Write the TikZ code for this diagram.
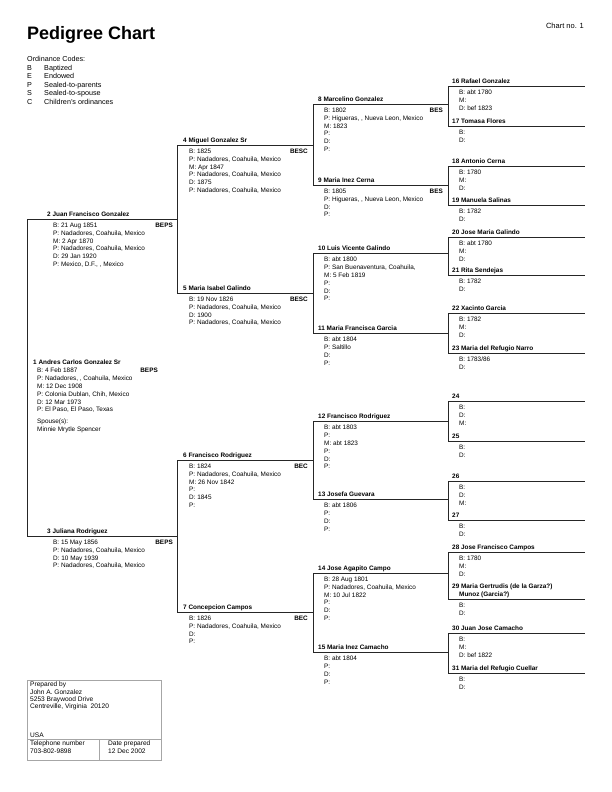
\documentclass[tikz,border=0pt]{standalone}
\usepackage{fontspec}
\setmainfont{Liberation Sans}
\begin{document}
\begin{tikzpicture}[x=1pt,y=-1pt,
  ln/.style={draw=black!85,line width=0.8pt},
  nm/.style={anchor=base west,inner sep=0,font=\bfseries\fontsize{6.4}{7.5}\selectfont},
  dt/.style={anchor=north west,inner sep=0,align=left,font=\fontsize{6.4}{7.9}\selectfont},
  cd/.style={anchor=base east,inner sep=0,font=\bfseries\fontsize{6.4}{7.5}\selectfont},
  tx/.style={anchor=base west,inner sep=0,font=\fontsize{7.2}{8}\selectfont},
  bx/.style={draw=black!35,line width=0.6pt}]
\useasboundingbox (0,0) rectangle (612,792);
\newcommand\pp[6]{%
  \coordinate (p#1) at (#2,#3);
  \draw[ln] (p#1) -- ++(#4,0);
  \node[nm] (n#1) at ([shift={(#5,-3)}]p#1) {#1 #6};}
\newcommand\dd[3]{\node[dt] (d#1) at ([shift={(#2,3.6)}]p#1) {#3};}
\newcommand\cc[3]{\node[cd] (c#1) at ([shift={(#2,8)}]p#1) {#3};}
% header
\node[anchor=base west,inner sep=0,font=\bfseries\fontsize{18}{20}\selectfont] (title) at (27,40) {Pedigree Chart};
\node[anchor=base east,inner sep=0,font=\fontsize{7.5}{9}\selectfont] (chartno) at (584,29) {Chart no. 1};
\node[tx] (oc) at (27,62) {Ordinance Codes:};
\foreach \l/\w [count=\i] in {B/Baptized,E/Endowed,P/Sealed-to-parents,S/Sealed-to-spouse,C/Children's ordinances}{
  \node[tx] (ol\i) at (27,62+8.4*\i) {\l};
  \node[tx] (ow\i) at (44,62+8.4*\i) {\w};}
% generation 1
\coordinate (p1) at (27,367);
\node[nm] (n1) at (33,364) {1 Andres Carlos Gonzalez Sr};
\node[dt] (d1) at (37,367.6) {B: 4 Feb 1887\\P: Nadadores, , Coahuila, Mexico\\M: 12 Dec 1908\\P: Colonia Dublan, Chih, Mexico\\D: 12 Mar 1973\\P: El Paso, El Paso, Texas\\[4pt]Spouse(s):\\Minnie Mrytle Spencer};
\node[cd] (c1) at (158,372) {BEPS};
% generation 2
\pp{2}{27}{219}{150}{20}{Juan Francisco Gonzalez}
\dd{2}{26}{B: 21 Aug 1851\\P: Nadadores, Coahuila, Mexico\\M: 2 Apr 1870\\P: Nadadores, Coahuila, Mexico\\D: 29 Jan 1920\\P: Mexico, D.F., , Mexico}
\cc{2}{146}{BEPS}
\pp{3}{27}{536}{150}{20}{Juliana Rodriguez}
\dd{3}{26}{B: 15 May 1856\\P: Nadadores, Coahuila, Mexico\\D: 10 May 1939\\P: Nadadores, Coahuila, Mexico}
\cc{3}{146}{BEPS}
\draw[ln] (p2) -- (p3);
% generation 3
\pp{4}{177}{145}{136}{6}{Miguel Gonzalez Sr}
\dd{4}{12}{B: 1825\\P: Nadadores, Coahuila, Mexico\\M: Apr 1847\\P: Nadadores, Coahuila, Mexico\\D: 1875\\P: Nadadores, Coahuila, Mexico}
\cc{4}{131}{BESC}
\pp{5}{177}{293}{136}{6}{Maria Isabel Galindo}
\dd{5}{12}{B: 19 Nov 1826\\P: Nadadores, Coahuila, Mexico\\D: 1900\\P: Nadadores, Coahuila, Mexico}
\cc{5}{131}{BESC}
\pp{6}{177}{460}{136}{6}{Francisco Rodriguez}
\dd{6}{12}{B: 1824\\P: Nadadores, Coahuila, Mexico\\M: 26 Nov 1842\\P:\\D: 1845\\P:}
\cc{6}{131}{BEC}
\pp{7}{177}{612}{136}{6}{Concepcion Campos}
\dd{7}{12}{B: 1826\\P: Nadadores, Coahuila, Mexico\\D:\\P:}
\cc{7}{131}{BEC}
\draw[ln] (p4) -- (p5);
\draw[ln] (p6) -- (p7);
% generation 4
\pp{8}{313}{104}{135}{5}{Marcelino Gonzalez}
\dd{8}{11}{B: 1802\\P: Higueras, , Nueva Leon, Mexico\\M: 1823\\P:\\D:\\P:}
\cc{8}{130}{BES}
\pp{9}{313}{185}{135}{5}{Maria Inez Cerna}
\dd{9}{11}{B: 1805\\P: Higueras, , Nueva Leon, Mexico\\D:\\P:}
\cc{9}{130}{BES}
\pp{10}{313}{253}{135}{5}{Luis Vicente Galindo}
\dd{10}{11}{B: abt 1800\\P: San Buenaventura, Coahuila,\\M: 5 Feb 1819\\P:\\D:\\P:}
\pp{11}{313}{333}{135}{5}{Maria Francisca Garcia}
\dd{11}{11}{B: abt 1804\\P: Saltillo\\D:\\P:}
\pp{12}{313}{421}{135}{5}{Francisco Rodriguez}
\dd{12}{11}{B: abt 1803\\P:\\M: abt 1823\\P:\\D:\\P:}
\pp{13}{313}{499}{135}{5}{Josefa Guevara}
\dd{13}{11}{B: abt 1806\\P:\\D:\\P:}
\pp{14}{313}{573}{135}{5}{Jose Agapito Campo}
\dd{14}{11}{B: 28 Aug 1801\\P: Nadadores, Coahuila, Mexico\\M: 10 Jul 1822\\P:\\D:\\P:}
\pp{15}{313}{652}{135}{5}{Maria Inez Camacho}
\dd{15}{11}{B: abt 1804\\P:\\D:\\P:}
\draw[ln] (p8) -- (p9);
\draw[ln] (p10) -- (p11);
\draw[ln] (p12) -- (p13);
\draw[ln] (p14) -- (p15);
% generation 5
\pp{16}{448}{86}{137}{4}{Rafael Gonzalez}
\dd{16}{11}{B: abt 1780\\M:\\D: bef 1823}
\pp{17}{448}{126}{137}{4}{Tomasa Flores}
\dd{17}{11}{B:\\D:}
\pp{18}{448}{166}{137}{4}{Antonio Cerna}
\dd{18}{11}{B: 1780\\M:\\D:}
\pp{19}{448}{205}{137}{4}{Manuela Salinas}
\dd{19}{11}{B: 1782\\D:}
\pp{20}{448}{237}{137}{4}{Jose Maria Galindo}
\dd{20}{11}{B: abt 1780\\M:\\D:}
\pp{21}{448}{275}{137}{4}{Rita Sendejas}
\dd{21}{11}{B: 1782\\D:}
\pp{22}{448}{313}{137}{4}{Xacinto Garcia}
\dd{22}{11}{B: 1782\\M:\\D:}
\pp{23}{448}{353}{137}{4}{Maria del Refugio Narro}
\dd{23}{11}{B: 1783/86\\D:}
\pp{24}{448}{401}{137}{4}{}
\dd{24}{11}{B:\\D:\\M:}
\pp{25}{448}{441}{137}{4}{}
\dd{25}{11}{B:\\D:}
\pp{26}{448}{481}{137}{4}{}
\dd{26}{11}{B:\\D:\\M:}
\pp{27}{448}{520}{137}{4}{}
\dd{27}{11}{B:\\D:}
\pp{28}{448}{552}{137}{4}{Jose Francisco Campos}
\dd{28}{11}{B: 1780\\M:\\D:}
\coordinate (p29) at (448,599);
\draw[ln] (p29) -- ++(137,0);
\node[nm] (n29) at (452,588) {29 Maria Gertrudis (de la Garza?)};
\node[nm] (n29b) at (459,596) {Munoz (Garcia?)};
\dd{29}{11}{B:\\D:}
\pp{30}{448}{633}{137}{4}{Juan Jose Camacho}
\dd{30}{11}{B:\\M:\\D: bef 1822}
\pp{31}{448}{673}{137}{4}{Maria del Refugio Cuellar}
\dd{31}{11}{B:\\D:}
\foreach \a/\b in {16/17,18/19,20/21,22/23,24/25,26/27,28/29,30/31}{\draw[ln] (p\a) -- (p\b);}
% prepared-by box
\draw[bx] (27,680) rectangle (161,760);
\draw[bx] (27,739) -- (161,739);
\draw[bx] (99,739) -- (99,760);
\node[dt,font=\fontsize{6.6}{7.3}\selectfont] (prep) at (30,682) {Prepared by\\John A. Gonzalez\\5253 Braywood Drive\\Centreville, Virginia\ \ 20120};
\node[tx,font=\fontsize{6.6}{7}\selectfont] (usa) at (30,737) {USA};
\node[dt,font=\fontsize{6.6}{7.3}\selectfont] (tel) at (30,741) {Telephone number\\703-802-9898};
\node[dt,font=\fontsize{6.6}{7.3}\selectfont] (date) at (108,741) {Date prepared\\12 Dec 2002};
\end{tikzpicture}
\end{document}
